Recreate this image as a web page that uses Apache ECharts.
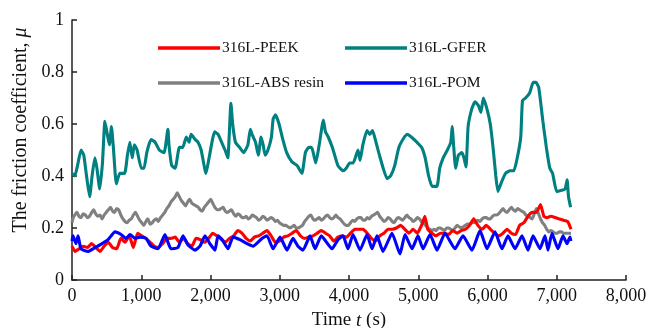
<!DOCTYPE html>
<html>
<head>
<meta charset="utf-8">
<script src="https://cdn.jsdelivr.net/npm/echarts@6/dist/echarts.min.js"></script>
<style>
  html, body { margin: 0; padding: 0; background: #fff; }
  #chart { width: 654px; height: 328px; }
</style>
</head>
<body>
<div id="chart"></div>
<script>
// time (s), friction coefficient
const peek = [
  [0, 0.13], [42, 0.11], [103, 0.12], [163, 0.13], [223, 0.125], [283, 0.14], [344, 0.125], [404, 0.11],
  [464, 0.13], [525, 0.145], [585, 0.125], [645, 0.12], [706, 0.16], [766, 0.145], [826, 0.17], [886, 0.125],
  [947, 0.18], [1007, 0.17], [1067, 0.16], [1128, 0.145], [1188, 0.13], [1248, 0.125], [1309, 0.14], [1369, 0.16],
  [1429, 0.16], [1490, 0.165], [1550, 0.145], [1610, 0.16], [1670, 0.14], [1731, 0.13], [1791, 0.16], [1851, 0.155],
  [1912, 0.145], [1972, 0.16], [2032, 0.18], [2092, 0.17], [2153, 0.16], [2213, 0.145], [2273, 0.16], [2334, 0.17],
  [2394, 0.19], [2454, 0.18], [2515, 0.16], [2575, 0.15], [2635, 0.165], [2696, 0.17], [2756, 0.18], [2816, 0.19],
  [2876, 0.17], [2937, 0.145], [2997, 0.15], [3057, 0.165], [3118, 0.17], [3178, 0.18], [3238, 0.19], [3299, 0.17],
  [3359, 0.16], [3419, 0.165], [3480, 0.17], [3540, 0.18], [3600, 0.19], [3660, 0.18], [3721, 0.17], [3781, 0.15],
  [3841, 0.165], [3901, 0.17], [3962, 0.165], [4022, 0.18], [4082, 0.195], [4143, 0.195], [4203, 0.195], [4263, 0.18],
  [4323, 0.16], [4384, 0.15], [4444, 0.17], [4504, 0.18], [4565, 0.195], [4625, 0.195], [4685, 0.2], [4746, 0.21],
  [4806, 0.195], [4866, 0.18], [4926, 0.195], [4987, 0.18], [5047, 0.21], [5095, 0.245], [5138, 0.195], [5198, 0.18],
  [5258, 0.17], [5319, 0.18], [5379, 0.18], [5439, 0.175], [5499, 0.19], [5560, 0.18], [5620, 0.19], [5680, 0.195],
  [5741, 0.21], [5801, 0.235], [5861, 0.21], [5922, 0.195], [5982, 0.21], [6042, 0.195], [6102, 0.18], [6163, 0.17],
  [6223, 0.18], [6283, 0.195], [6344, 0.18], [6404, 0.175], [6464, 0.21], [6525, 0.22], [6585, 0.245], [6645, 0.26],
  [6706, 0.26], [6766, 0.29], [6814, 0.245], [6856, 0.24], [6916, 0.245], [6977, 0.24], [7037, 0.235], [7097, 0.23],
  [7158, 0.225], [7206, 0.195]
];

const gfer = [
  [0, 0.41], [40, 0.40], [80, 0.44], [130, 0.50], [170, 0.48], [210, 0.40], [255, 0.32], [290, 0.40],
  [330, 0.47], [360, 0.43], [400, 0.35], [440, 0.45], [475, 0.61], [510, 0.56], [540, 0.52], [570, 0.59],
  [600, 0.50], [640, 0.37], [690, 0.41], [760, 0.41], [800, 0.48], [835, 0.53], [870, 0.47], [900, 0.52],
  [940, 0.50], [1000, 0.43], [1040, 0.43], [1080, 0.49], [1140, 0.54], [1200, 0.53], [1260, 0.50], [1330, 0.49],
  [1385, 0.58], [1400, 0.52], [1440, 0.44], [1490, 0.43], [1550, 0.51], [1600, 0.51], [1650, 0.55], [1690, 0.53],
  [1720, 0.56], [1780, 0.54], [1820, 0.53], [1865, 0.50], [1935, 0.41], [1980, 0.47], [2060, 0.57], [2110, 0.56],
  [2160, 0.53], [2210, 0.50], [2250, 0.47], [2295, 0.68], [2320, 0.60], [2360, 0.53], [2420, 0.51], [2480, 0.49],
  [2540, 0.52], [2575, 0.58], [2600, 0.56], [2650, 0.53], [2690, 0.48], [2730, 0.55], [2760, 0.52], [2790, 0.48],
  [2830, 0.50], [2880, 0.55], [2905, 0.62], [2940, 0.635], [2990, 0.60], [3040, 0.545], [3100, 0.49], [3175, 0.455],
  [3250, 0.44], [3320, 0.41], [3370, 0.49], [3420, 0.51], [3460, 0.51], [3520, 0.45], [3570, 0.52], [3630, 0.615],
  [3660, 0.57], [3700, 0.55], [3760, 0.51], [3840, 0.44], [3915, 0.42], [3960, 0.43], [4010, 0.45], [4060, 0.45],
  [4130, 0.50], [4160, 0.46], [4200, 0.52], [4260, 0.575], [4300, 0.56], [4340, 0.575], [4380, 0.54], [4450, 0.47],
  [4550, 0.39], [4600, 0.40], [4660, 0.44], [4720, 0.51], [4800, 0.55], [4840, 0.56], [4900, 0.55], [4980, 0.53],
  [5050, 0.51], [5100, 0.47], [5150, 0.40], [5200, 0.36], [5270, 0.36], [5310, 0.43], [5360, 0.47], [5420, 0.50],
  [5470, 0.53], [5490, 0.59], [5510, 0.52], [5540, 0.43], [5580, 0.48], [5630, 0.49], [5660, 0.47], [5690, 0.435],
  [5720, 0.59], [5775, 0.66], [5820, 0.685], [5870, 0.67], [5905, 0.645], [5940, 0.70], [5990, 0.66], [6040, 0.60],
  [6080, 0.51], [6120, 0.40], [6150, 0.34], [6200, 0.375], [6260, 0.41], [6325, 0.42], [6380, 0.42], [6430, 0.47],
  [6480, 0.55], [6505, 0.69], [6550, 0.70], [6610, 0.72], [6660, 0.76], [6700, 0.76], [6740, 0.74], [6800, 0.61],
  [6850, 0.51], [6900, 0.43], [6940, 0.41], [7000, 0.34], [7070, 0.345], [7120, 0.35], [7150, 0.385], [7170, 0.32],
  [7200, 0.28]
];

const absResin = [
  [0, 0.22], [12, 0.235], [40, 0.25], [72, 0.26], [100, 0.245], [133, 0.24], [160, 0.255], [193, 0.25], [220, 0.24],
  [253, 0.245], [285, 0.26], [314, 0.27], [340, 0.255], [374, 0.245], [405, 0.25], [434, 0.235], [465, 0.25],
  [494, 0.26], [525, 0.27], [555, 0.28], [585, 0.265], [615, 0.26], [645, 0.275], [675, 0.27], [705, 0.25],
  [736, 0.235], [766, 0.225], [796, 0.22], [826, 0.23], [856, 0.235], [886, 0.25], [917, 0.26], [947, 0.245],
  [977, 0.23], [1007, 0.22], [1037, 0.21], [1067, 0.225], [1097, 0.235], [1128, 0.215], [1158, 0.22], [1188, 0.23],
  [1218, 0.235], [1248, 0.225], [1278, 0.24], [1309, 0.25], [1339, 0.26], [1369, 0.275], [1399, 0.285], [1429, 0.30],
  [1459, 0.31], [1490, 0.32], [1520, 0.335], [1550, 0.32], [1580, 0.305], [1610, 0.295], [1640, 0.285], [1670, 0.30],
  [1700, 0.31], [1731, 0.295], [1761, 0.29], [1791, 0.285], [1821, 0.28], [1851, 0.27], [1881, 0.265], [1912, 0.28],
  [1942, 0.29], [1972, 0.30], [2002, 0.31], [2032, 0.295], [2062, 0.28], [2092, 0.27], [2123, 0.27], [2153, 0.275],
  [2183, 0.28], [2213, 0.265], [2243, 0.26], [2273, 0.265], [2303, 0.27], [2334, 0.255], [2364, 0.245], [2394, 0.255],
  [2424, 0.25], [2454, 0.24], [2484, 0.24], [2515, 0.245], [2545, 0.235], [2575, 0.24], [2605, 0.25], [2635, 0.245],
  [2665, 0.24], [2696, 0.23], [2726, 0.235], [2756, 0.245], [2786, 0.24], [2816, 0.23], [2846, 0.235], [2876, 0.24],
  [2906, 0.235], [2937, 0.225], [2967, 0.23], [2997, 0.22], [3027, 0.215], [3057, 0.21], [3087, 0.21], [3118, 0.205],
  [3148, 0.20], [3178, 0.205], [3208, 0.21], [3238, 0.2], [3268, 0.20], [3299, 0.205], [3329, 0.21], [3359, 0.225],
  [3389, 0.235], [3419, 0.245], [3449, 0.25], [3480, 0.235], [3510, 0.23], [3540, 0.235], [3570, 0.24], [3600, 0.23],
  [3630, 0.235], [3660, 0.245], [3690, 0.25], [3721, 0.24], [3751, 0.235], [3781, 0.24], [3811, 0.25], [3841, 0.24],
  [3871, 0.235], [3901, 0.225], [3932, 0.215], [3962, 0.21], [3992, 0.21], [4022, 0.22], [4052, 0.23], [4082, 0.225],
  [4112, 0.235], [4143, 0.24], [4173, 0.24], [4203, 0.23], [4233, 0.23], [4263, 0.24], [4293, 0.235], [4323, 0.245],
  [4354, 0.25], [4384, 0.255], [4414, 0.26], [4444, 0.245], [4474, 0.235], [4504, 0.225], [4535, 0.23], [4565, 0.24],
  [4595, 0.235], [4625, 0.225], [4655, 0.22], [4685, 0.235], [4715, 0.24], [4746, 0.235], [4776, 0.23], [4806, 0.24],
  [4836, 0.25], [4866, 0.24], [4896, 0.235], [4926, 0.225], [4957, 0.23], [4987, 0.24], [5017, 0.235], [5047, 0.225],
  [5077, 0.22], [5107, 0.21], [5138, 0.20], [5168, 0.195], [5198, 0.19], [5228, 0.195], [5258, 0.19], [5289, 0.2],
  [5319, 0.20], [5349, 0.195], [5379, 0.19], [5409, 0.2], [5439, 0.20], [5469, 0.195], [5499, 0.19], [5530, 0.2],
  [5560, 0.21], [5590, 0.205], [5620, 0.20], [5650, 0.205], [5680, 0.21], [5710, 0.215], [5741, 0.215], [5771, 0.22],
  [5801, 0.22], [5831, 0.225], [5861, 0.23], [5892, 0.225], [5922, 0.235], [5952, 0.24], [5982, 0.24], [6012, 0.235],
  [6042, 0.235], [6072, 0.245], [6102, 0.25], [6133, 0.25], [6163, 0.255], [6193, 0.265], [6223, 0.275], [6253, 0.265],
  [6283, 0.26], [6314, 0.27], [6344, 0.28], [6374, 0.27], [6404, 0.265], [6434, 0.275], [6464, 0.27], [6494, 0.265],
  [6525, 0.26], [6555, 0.25], [6585, 0.245], [6615, 0.24], [6645, 0.235], [6675, 0.255], [6706, 0.275], [6736, 0.255],
  [6766, 0.235], [6796, 0.22], [6826, 0.21], [6856, 0.195], [6886, 0.185], [6916, 0.19], [6947, 0.185], [6977, 0.18],
  [7007, 0.18], [7037, 0.185], [7067, 0.185], [7097, 0.18], [7128, 0.18], [7158, 0.18], [7206, 0.18]
];

const pom = [
  [0, 0.15], [14, 0.17], [58, 0.14], [87, 0.17], [130, 0.12], [231, 0.11], [303, 0.12], [404, 0.135],
  [520, 0.155], [620, 0.185], [708, 0.175], [780, 0.16], [838, 0.175], [910, 0.16], [982, 0.165], [1069, 0.16],
  [1140, 0.13], [1242, 0.12], [1343, 0.175], [1386, 0.145], [1430, 0.12], [1530, 0.125], [1603, 0.17], [1675, 0.135],
  [1776, 0.115], [1848, 0.13], [1920, 0.17], [1990, 0.14], [2065, 0.115], [2108, 0.17], [2180, 0.15], [2253, 0.12],
  [2325, 0.165], [2426, 0.155], [2527, 0.14], [2614, 0.13], [2744, 0.16], [2816, 0.17], [2903, 0.12], [3004, 0.165],
  [3105, 0.115], [3191, 0.16], [3263, 0.13], [3336, 0.115], [3437, 0.17], [3509, 0.12], [3600, 0.17], [3755, 0.12],
  [3841, 0.155], [3913, 0.17], [3986, 0.12], [4058, 0.175], [4159, 0.115], [4260, 0.175], [4332, 0.12], [4404, 0.17],
  [4491, 0.11], [4621, 0.18], [4736, 0.10], [4809, 0.175], [4910, 0.12], [4996, 0.17], [5069, 0.12], [5170, 0.175],
  [5271, 0.115], [5386, 0.18], [5530, 0.12], [5646, 0.17], [5776, 0.115], [5892, 0.19], [5993, 0.12], [6108, 0.185],
  [6209, 0.12], [6296, 0.17], [6397, 0.12], [6498, 0.17], [6585, 0.115], [6657, 0.17], [6758, 0.12], [6830, 0.17],
  [6874, 0.115], [6931, 0.18], [7018, 0.12], [7090, 0.17], [7148, 0.14], [7191, 0.165], [7205, 0.15]
];

const seriesNames = ['316L-PEEK', '316L-GFER', '316L-ABS resin', '316L-POM'];
const seriesColors = ['#ff0000', '#008080', '#808080', '#0000ff'];

const fontFamily = "'Liberation Serif', 'Times New Roman', serif";
const axisColor = '#222';

const chart = echarts.init(document.getElementById('chart'), null, { renderer: 'canvas' });

const legendBase = {
  orient: 'vertical',
  top: 34,
  icon: 'rect',
  itemWidth: 62,
  itemHeight: 3.5,
  itemGap: 17,
  textStyle: { fontFamily, fontSize: 15.5, color: '#111', lineHeight: 18, padding: [0, 0, 0, -3] },
};

const line = (name, data, color, z) => ({
  name,
  type: 'line',
  data,
  showSymbol: false,
  smooth: 0.15,
  z,
  lineStyle: { color, width: 3.1 },
  itemStyle: { color },
  emphasis: { disabled: true },
});

chart.setOption({
  animation: false,
  grid: { left: 72, right: 28, top: 20, bottom: 48, outerBoundsMode: 'none' },
  legend: [
    { ...legendBase, left: 153, data: [seriesNames[0], seriesNames[2]] },
    { ...legendBase, left: 340, data: [seriesNames[1], seriesNames[3]] },
  ],
  xAxis: {
    type: 'value',
    min: 0,
    max: 8000,
    interval: 1000,
    name: '{a|Time }{b|t}{a| (s)}',
    nameLocation: 'middle',
    nameGap: 31,
    nameTextStyle: {
      rich: {
        a: { fontFamily, fontSize: 19, color: '#111' },
        b: { fontFamily, fontSize: 19, color: '#111', fontStyle: 'italic' },
      },
    },
    axisLine: { lineStyle: { color: axisColor, width: 1.5 } },
    axisTick: { inside: true, length: 5, lineStyle: { color: axisColor, width: 1.5 } },
    axisLabel: {
      fontFamily, fontSize: 18, color: '#111', margin: 7,
      formatter: v => (v >= 1000 ? Math.floor(v / 1000) + ',000' : String(v)),
    },
    splitLine: { show: false },
  },
  yAxis: {
    type: 'value',
    min: 0,
    max: 1,
    interval: 0.2,
    name: '{a|The friction coefficient, }{b|μ}',
    nameLocation: 'middle',
    nameGap: 41,
    nameTextStyle: {
      padding: [0, 0, 0, 40],
      rich: {
        a: { fontFamily, fontSize: 20, color: '#111' },
        b: { fontFamily, fontSize: 20, color: '#111', fontStyle: 'italic' },
      },
    },
    axisLine: { show: true, lineStyle: { color: axisColor, width: 1.5 } },
    axisTick: { show: true, inside: true, length: 5, lineStyle: { color: axisColor, width: 1.5 } },
    axisLabel: { fontFamily, fontSize: 18, color: '#111', margin: 8 },
    splitLine: { show: false },
  },
  series: [
    line(seriesNames[2], absResin, seriesColors[2], 2),
    line(seriesNames[0], peek, seriesColors[0], 3),
    line(seriesNames[1], gfer, seriesColors[1], 4),
    line(seriesNames[3], pom, seriesColors[3], 5),
  ],
});
</script>
</body>
</html>
